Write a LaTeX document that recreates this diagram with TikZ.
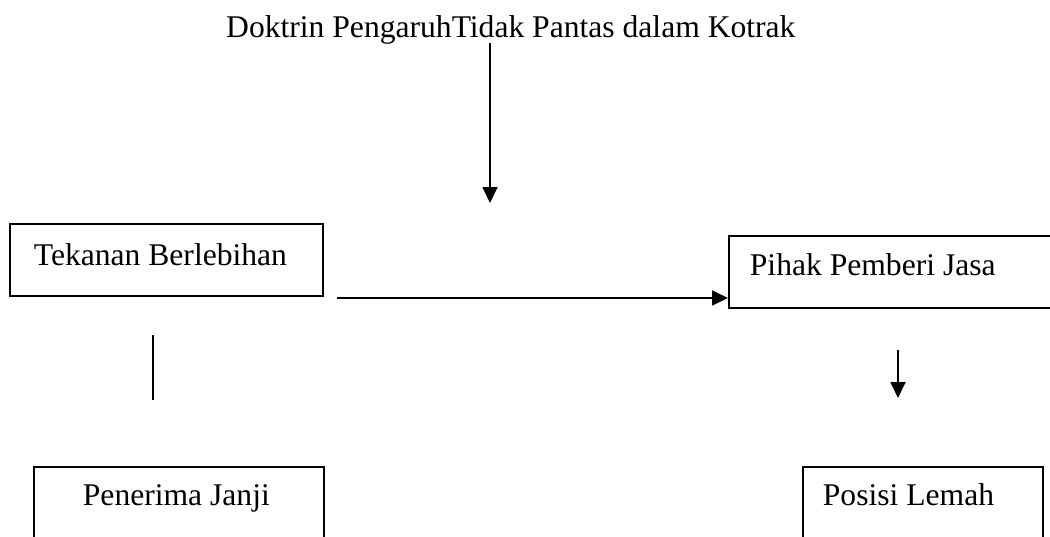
\documentclass[tikz,border=0pt]{standalone}
\usepackage{fontspec}
\setmainfont{Liberation Serif}
\usetikzlibrary{arrows.meta}
\tikzset{
  txt/.style={font=\fontsize{31.6}{38}\selectfont},
  box/.style={txt, draw, line width=1.8pt, anchor=north west, align=flush left,
    inner ysep=0pt, text depth=32pt},
  conn/.style={line width=1.8pt},
  arr/.style={conn, -{Triangle[length=16pt,width=15pt]}}
}
\begin{document}
\begin{tikzpicture}[x=1pt,y=-1pt]
\useasboundingbox (0,0) rectangle (1050,536);
\clip (0,0) rectangle (1050,536);
% title
\node[txt, anchor=base west, inner sep=0pt] (title) at (226,37) {Doktrin PengaruhTidak Pantas dalam Kotrak};
\coordinate (t1) at (490,43);
\coordinate (t2) at (490,203);
\draw[arr] (t1) -- (t2);
% boxes
\node[box, inner xsep=24pt, text width=265pt, text height=42pt, text depth=30pt] (tek) at (9,223) {Tekanan Berlebihan};
\node[box, inner xsep=21pt, text width=290pt, text height=40pt] (pih) at (728,235) {Pihak Pemberi Jasa};
\node[box, inner xsep=49pt, text width=192pt, text height=39pt, text depth=60pt] (pen) at (33,466) {Penerima Janji};
\node[box, inner xsep=20pt, text width=200pt, text height=39pt, text depth=60pt] (pos) at (802,466) {Posisi Lemah};
% connectors
\coordinate (h1) at (337,298);
\draw[arr] (h1) -- (h1 -| pih.west);
\coordinate (l1) at (153,335);
\coordinate (l2) at (153,400);
\draw[conn] (l1) -- (l2);
\coordinate (r1) at (898,350);
\coordinate (r2) at (898,398);
\draw[arr] (r1) -- (r2);
\end{tikzpicture}
\end{document}
